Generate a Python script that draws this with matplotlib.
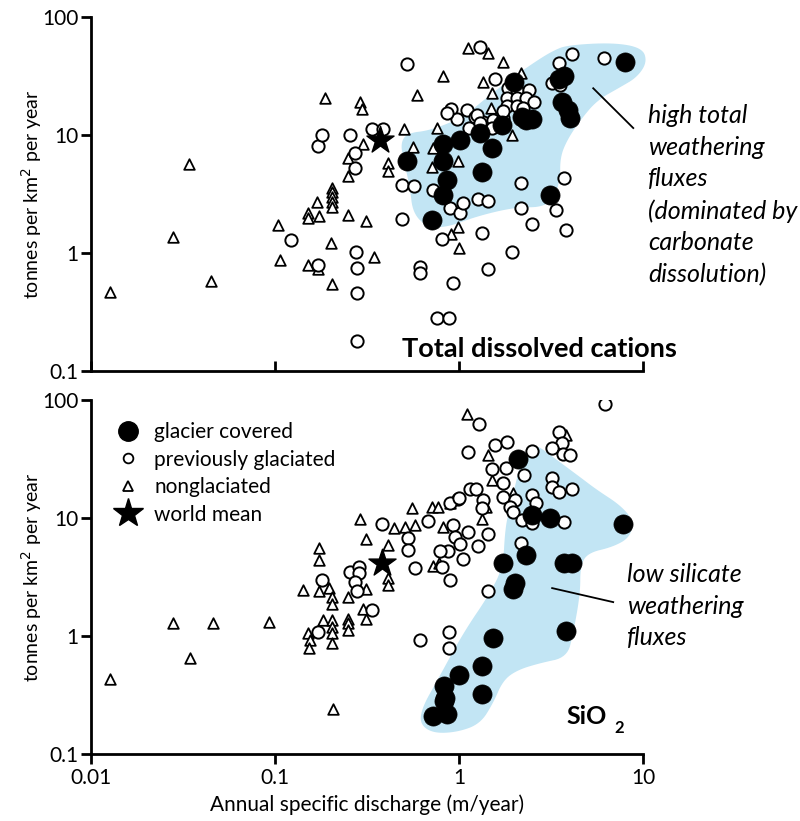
import numpy as np
import matplotlib
matplotlib.use("Agg")
import matplotlib.pyplot as plt
from matplotlib.lines import Line2D

plt.rcParams['font.family'] = ['Lato', 'DejaVu Sans']

# ---- top panel: total dissolved cations ----
top_glacier = [(0.52, 6.1), (0.82, 8.4), (0.82, 6.1), (0.86, 4.2), (0.82, 3.1),
               (0.71, 1.9), (1.01, 9.1), (1.30, 10.4), (1.33, 4.9), (1.51, 7.8),
               (1.71, 12.2), (1.98, 28), (2.2, 14.2), (2.3, 13.4), (2.5, 13.7),
               (3.1, 3.1), (3.7, 32), (3.5, 30), (3.6, 19), (3.9, 16.5),
               (4.0, 13.9), (8.0, 42)]
top_prev = [(0.122, 1.3), (0.17, 8.1), (0.18, 10), (0.256, 10), (0.27, 7.0),
            (0.27, 5.3), (0.276, 1.02), (0.28, 0.75), (0.28, 0.46), (0.28, 0.18),
            (0.17, 0.79), (0.337, 11.2), (0.386, 11.2), (0.52, 40), (1.30, 56),
            (1.57, 30), (0.90, 16.6), (1.10, 16.3), (0.97, 13.7), (1.22, 14.3),
            (1.35, 13), (0.86, 15.5), (1.52, 13.5), (1.85, 25), (2.05, 24),
            (2.4, 24), (1.83, 20.6), (2.05, 20.6), (2.3, 20.6), (2.56, 19),
            (1.81, 17.7), (2.05, 17.7), (2.23, 17), (1.25, 14.8), (1.73, 13.9),
            (1.13, 11.5), (1.3, 12.6), (1.5, 11.5), (1.73, 16), (6.1, 45),
            (4.1, 48.5), (3.5, 41), (3.2, 27.6), (3.55, 26.5), (0.49, 3.8),
            (0.57, 3.7), (0.72, 3.4), (0.49, 1.95), (0.89, 2.4), (1.01, 2.2),
            (1.05, 2.65), (1.27, 2.9), (1.43, 2.75), (2.17, 3.9), (3.7, 4.3),
            (2.17, 2.4), (3.37, 2.3), (2.5, 1.76), (3.8, 1.57), (1.33, 1.47),
            (0.81, 1.31), (1.94, 1.02), (1.43, 0.73), (0.61, 0.77), (0.61, 0.68),
            (0.93, 0.56), (0.76, 0.28), (0.88, 0.28)]
top_nonglac = [(0.0127, 0.47), (0.034, 5.7), (0.028, 1.37), (0.045, 0.58),
               (0.104, 1.73), (0.106, 0.87), (0.187, 20.6), (0.29, 19),
               (0.296, 16.6), (0.30, 8.4), (0.25, 6.4), (0.25, 4.5), (0.41, 5.8),
               (0.41, 5.0), (0.204, 3.6), (0.204, 3.3), (0.204, 3.0), (0.204, 2.7),
               (0.204, 2.45), (0.169, 2.7), (0.151, 2.2), (0.151, 2.0), (0.174, 2.05),
               (0.25, 2.1), (0.31, 1.87), (0.20, 1.22), (0.151, 0.79), (0.17, 0.74),
               (0.204, 0.55), (0.345, 0.92), (1.12, 55), (1.44, 50), (0.82, 32),
               (0.59, 22), (1.35, 28), (1.50, 23), (1.48, 17), (0.50, 11.2),
               (0.76, 11.5), (0.56, 7.9), (0.72, 7.8), (0.99, 6.0), (0.71, 5.4),
               (1.73, 42), (2.17, 34), (1.94, 10), (0.98, 1.66), (1.0, 1.1), (0.9, 1.45)]
top_world = (0.37, 9.1)
top_blob = [(3.86, 58), (6.87, 61), (9.9, 55), (10.5, 41.6), (9.27, 31), (7.5, 25.5),
            (5.62, 19.8), (4.55, 13.4), (3.86, 9.1), (3.54, 6.5), (3.54, 4.2),
            (3.24, 2.8), (2.75, 2.45), (2.15, 2.45), (1.67, 2.3), (1.19, 2.0),
            (0.86, 1.66), (0.67, 1.66), (0.56, 2.18), (0.54, 3.6), (0.50, 6.1),
            (0.48, 8.5), (0.52, 10.4), (0.70, 11), (1.05, 14.2), (1.42, 21),
            (1.96, 31), (2.65, 43), (3.24, 52)]

# ---- bottom panel: SiO2 ----
bot_glacier = [(2.1, 32), (2.5, 10.6), (3.1, 10), (7.8, 8.9), (1.73, 4.2), (2.3, 4.85),
               (3.7, 4.2), (4.1, 4.2), (2.0, 2.8), (1.95, 2.5), (1.53, 0.96), (3.8, 1.1),
               (1.33, 0.56), (1.0, 0.47), (0.83, 0.38), (1.33, 0.32), (0.83, 0.28),
               (0.86, 0.22), (0.72, 0.21), (0.84, 0.30)]
bot_prev = [(6.2, 92), (1.28, 63), (3.5, 54), (3.6, 43), (3.2, 39), (3.65, 35), (4.0, 34),
            (1.12, 36), (1.57, 42), (1.82, 44), (2.5, 37), (1.5, 26), (1.8, 26.5),
            (2.26, 23), (1.73, 20), (3.2, 21.8), (3.2, 18.3), (3.5, 16.6), (4.1, 17.6),
            (1.14, 17.6), (1.24, 17.6), (0.99, 14.5), (1.34, 14.2), (1.33, 12.2),
            (1.73, 15), (2.0, 14.2), (1.9, 12.4), (1.95, 11.2), (2.5, 15.7), (2.6, 13.4),
            (2.2, 9.6), (2.5, 9.1), (3.7, 9.3), (0.92, 8.7), (0.95, 6.9), (1.11, 7.6),
            (1.26, 5.8), (1.44, 7.4), (1.01, 6.0), (0.87, 5.25), (0.79, 5.25), (1.05, 4.5),
            (0.81, 3.85), (0.89, 3.0), (2.17, 6.1), (1.44, 2.4), (0.575, 3.8), (0.61, 0.93),
            (0.88, 1.08), (0.88, 0.79), (0.38, 8.9), (0.18, 3.0), (0.17, 1.08),
            (0.256, 3.5), (0.285, 3.85), (0.285, 3.4), (0.27, 2.9), (0.28, 2.4),
            (0.337, 1.65), (0.68, 9.4), (0.53, 6.8), (0.53, 5.4), (0.89, 13.3), (1.0, 14.8)]
bot_nonglac = [(0.0127, 0.43), (0.028, 1.29), (0.0345, 0.65), (0.046, 1.28), (0.093, 1.32),
               (0.142, 2.45), (0.174, 5.6), (0.174, 4.4), (0.174, 2.4), (0.195, 2.55),
               (0.204, 2.15), (0.204, 1.87), (0.151, 1.06), (0.155, 0.93), (0.153, 0.79),
               (0.182, 1.37), (0.204, 1.37), (0.204, 1.19), (0.204, 1.06), (0.204, 0.87),
               (0.25, 1.4), (0.25, 1.29), (0.25, 1.12), (0.25, 2.15), (0.31, 1.4),
               (0.31, 2.5), (0.30, 1.7), (0.29, 9.8), (0.31, 6.6), (0.41, 5.9), (0.41, 3.1),
               (0.41, 2.7), (0.44, 8.2), (0.51, 8.4), (0.575, 8.7), (0.555, 12.2),
               (0.71, 12.4), (0.77, 12.4), (0.72, 3.9), (0.78, 4.2), (0.207, 0.24),
               (1.10, 76), (3.8, 51), (1.44, 34), (1.5, 21), (0.89, 13.4), (1.4, 12.5),
               (1.95, 16.3), (1.33, 9.8), (0.82, 8.4)]
bot_world = (0.38, 4.2)
bot_blob = [(2.65, 41.6), (3.24, 32.9), (4.55, 22.2), (5.62, 17.3), (7.5, 12.9),
            (8.83, 9.6), (8.5, 6.9), (6.87, 5.7), (4.96, 5.05), (4.55, 3.85),
            (4.55, 2.3), (4.17, 1.06), (3.86, 0.66), (2.75, 0.59), (2.07, 0.515),
            (1.73, 0.42), (1.53, 0.27), (1.30, 0.18), (0.975, 0.153), (0.72, 0.15),
            (0.61, 0.18), (0.63, 0.25), (0.76, 0.42), (1.05, 1.06), (1.47, 2.3),
            (1.73, 3.85), (1.78, 8.4), (1.89, 12.4), (2.15, 29), (2.34, 39)]

x_ticks = [0.01, 0.1, 1, 10]
x_ticklabels = ['0.01', '0.1', '1', '10']
y_ticks = [0.1, 1, 10, 100]
y_ticklabels = ['0.1', '1', '10', '100']

BLUE = '#c2e5f4'


def smooth_blob(pts, n_iter=3):
    """Chaikin corner cutting in log space"""
    p = np.log10(np.array(pts))
    for _ in range(n_iter):
        q = np.roll(p, -1, axis=0)
        a = 0.75 * p + 0.25 * q
        b = 0.25 * p + 0.75 * q
        p = np.stack([a, b], axis=1).reshape(-1, 2)
    return 10 ** p[:, 0], 10 ** p[:, 1]


def draw_panel(ax, glacier, prev, nonglac, world, blob):
    bx, by = smooth_blob(blob)
    ax.fill(bx, by, color=BLUE, lw=0, zorder=0, clip_on=False)
    x, y = zip(*nonglac)
    ax.scatter(x, y, marker='^', s=58, facecolor='white', edgecolor='black',
               linewidth=1.3, zorder=2)
    x, y = zip(*prev)
    ax.scatter(x, y, marker='o', s=78, facecolor='white', edgecolor='black',
               linewidth=1.4, zorder=3)
    x, y = zip(*glacier)
    ax.scatter(x, y, marker='o', s=190, facecolor='black', edgecolor='black',
               linewidth=0.5, zorder=4)
    ax.scatter([world[0]], [world[1]], marker='*', s=420, color='black', zorder=5)

    ax.set_xscale('log')
    ax.set_yscale('log')
    ax.set_xlim(0.01, 10)
    ax.set_ylim(0.1, 100)
    ax.minorticks_off()
    ax.set_yticks(y_ticks)
    ax.set_yticklabels(y_ticklabels)
    ax.set_xticks(x_ticks)
    for s in ['top', 'right']:
        ax.spines[s].set_visible(False)
    for s in ['left', 'bottom']:
        ax.spines[s].set_linewidth(2.0)
    ax.tick_params(axis='y', direction='out', length=7, width=2.0,
                   labelsize=15, pad=2)
    ax.set_ylabel('tonnes per km$^{2}$ per year', fontsize=14)
    ax.yaxis.set_label_coords(-0.085, 0.5)


fig = plt.figure(figsize=(8, 8.21), dpi=100)
ax1 = fig.add_axes([0.114, 0.548, 0.690, 0.431])
ax2 = fig.add_axes([0.114, 0.0816, 0.690, 0.431])

draw_panel(ax1, top_glacier, top_prev, top_nonglac, top_world, top_blob)
draw_panel(ax2, bot_glacier, bot_prev, bot_nonglac, bot_world, bot_blob)

ax1.tick_params(axis='x', direction='in', length=7, width=2.0, labelbottom=False)
ax2.tick_params(axis='x', direction='out', length=7, width=2.0, labelsize=15, pad=3)
ax2.set_xticklabels(x_ticklabels)
ax2.set_xlabel('Annual specific discharge (m/year)', fontsize=15, labelpad=5)


def px(x, y):
    return x / 800, 1 - y / 821


# annotations
ax1.plot([5.35, 8.83], [25, 11.5], color='black', lw=1.3, zorder=6, clip_on=False)
fig.text(*px(648, 104), 'high total\nweathering\nfluxes\n(dominated by\ncarbonate\ndissolution)',
         fontsize=18, style='italic', va='top', ha='left', linespacing=1.45)
fig.text(*px(402, 357), 'Total dissolved cations', fontsize=19.5, fontweight='bold',
         va='baseline', ha='left')

ax2.plot([3.2, 6.87], [2.55, 1.94], color='black', lw=1.3, zorder=6)
fig.text(*px(627, 563), 'low silicate\nweathering\nfluxes',
         fontsize=18, style='italic', va='top', ha='left', linespacing=1.45)
fig.text(*px(566, 724), 'SiO', fontsize=18, fontweight='bold', va='baseline', ha='left')
fig.text(*px(614, 733), '2', fontsize=12, fontweight='bold', va='baseline', ha='left')

handles = [
    Line2D([], [], marker='o', ls='none', markersize=14, color='black', label='glacier covered'),
    Line2D([], [], marker='o', ls='none', markersize=7, mfc='white', mec='black', mew=1.3,
           label='previously glaciated'),
    Line2D([], [], marker='^', ls='none', markersize=7, mfc='white', mec='black', mew=1.3,
           label='nonglaciated'),
    Line2D([], [], marker='*', ls='none', markersize=22, color='black', label='world mean'),
]
ax2.legend(handles=handles, loc='upper left', bbox_to_anchor=(0.048, 0.938), frameon=False,
           fontsize=15, handlelength=1.0, handletextpad=0.75, labelspacing=0.36,
           borderpad=0, borderaxespad=0)

plt.savefig('out.png', dpi=100)
